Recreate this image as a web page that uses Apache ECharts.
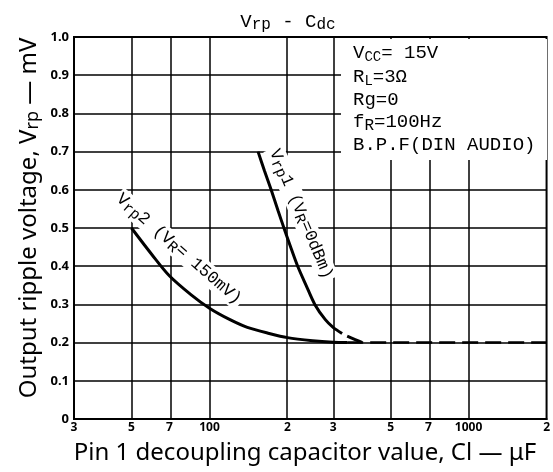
<!DOCTYPE html>
<html><head><meta charset="utf-8">
<script src="https://cdn.jsdelivr.net/npm/echarts@6/dist/echarts.min.js"></script>
<style>html,body{margin:0;padding:0;background:#fff}#c{width:553px;height:472px}</style>
</head><body><div id="c"></div>
<script>
const xTickValues = [30, 50, 70, 100, 200, 300, 500, 700, 1000, 2000];
const xTickLabels = ['3', '5', '7', '100', '2', '3', '5', '7', '1000', '2'];
const yMin = 0, yMax = 1.0, yStep = 0.1;

const vrp1C = [154, 163, 173, 184, 195, 207, 219, 236, 255, 280, 300, 325];
const vrp1V = [0.70, 0.65, 0.60, 0.545, 0.495, 0.445, 0.40, 0.35, 0.30, 0.26, 0.24, 0.224];
const vrp1DashC = [340, 365, 390];
const vrp1DashV = [0.217, 0.208, 0.20];

const vrp2C = [50, 60, 70, 85, 100, 120, 140, 170, 200, 250, 300, 340];
const vrp2V = [0.50, 0.43, 0.375, 0.325, 0.29, 0.26, 0.24, 0.224, 0.213, 0.205, 0.201, 0.20];
const vrp2DashC = [340, 2000];
const vrp2DashV = [0.20, 0.20];

const L = Math.log10;
const pts = (cs, vs) => cs.map((c, i) => [L(c), vs[i]]);
const mono = '"Liberation Mono", "DejaVu Sans Mono", monospace';
const sans = '"Noto Sans", "DejaVu Sans", sans-serif';

const chart = echarts.init(document.getElementById('c'), null, {renderer: 'canvas'});
chart.setOption({
  animation: false,
  backgroundColor: '#fff',
  grid: {left: 74, right: 2, top: 37, bottom: 53, show: true, borderColor: '#000', borderWidth: 2},
  xAxis: {
    type: 'value', min: L(xTickValues[0]), max: L(xTickValues[xTickValues.length - 1]),
    axisLine: {show: true, lineStyle: {color: '#000', width: 2}},
    axisTick: {show: false},
    splitLine: {show: false},
    axisLabel: {
      customValues: xTickValues.map(L),
      showMinLabel: true, showMaxLabel: true, hideOverlap: false,
      margin: 3, color: '#000', fontFamily: sans, fontWeight: 'bold', fontSize: 12,
      formatter: v => {
        let best = 0, d = 1e9;
        xTickValues.forEach((t, i) => { const dd = Math.abs(L(t) - v); if (dd < d) { d = dd; best = i; } });
        return xTickLabels[best];
      }
    }
  },
  yAxis: {
    type: 'value', min: yMin, max: yMax, interval: yStep,
    axisLine: {show: true, lineStyle: {color: '#000', width: 2}},
    axisTick: {show: false},
    splitLine: {show: true, lineStyle: {color: '#000', width: 1.5}},
    axisLabel: {
      margin: 5, color: '#000', fontFamily: sans, fontWeight: 'bold', fontSize: 13,
      formatter: v => (Math.abs(v) < 1e-9 ? '0' : v.toFixed(1))
    }
  },
  series: [
    {
      type: 'line', data: [], z: 1, silent: true,
      markLine: {
        silent: true, symbol: 'none', label: {show: false},
        lineStyle: {color: '#000', width: 1.5, type: 'solid'},
        data: xTickValues.slice(1, -1).map(v => ({xAxis: L(v)}))
      }
    },
    {type: 'line', data: pts(vrp1C, vrp1V), smooth: 0.3, symbol: 'none', z: 5,
     lineStyle: {color: '#000', width: 3}},
    {type: 'line', data: pts(vrp1DashC, vrp1DashV), smooth: true, symbol: 'none', z: 5,
     lineStyle: {color: '#000', width: 3, type: [16, 10]}},
    {type: 'line', data: pts(vrp2C, vrp2V), smooth: 0.3, symbol: 'none', z: 5,
     lineStyle: {color: '#000', width: 3}},
    {type: 'line', data: pts(vrp2DashC, vrp2DashV), symbol: 'none', z: 5,
     lineStyle: {color: '#000', width: 2.5, type: [16, 7]}}
  ],
  graphic: {elements: [
    {type: 'rect', shape: {x: 341, y: 39, width: 206, height: 121}, style: {fill: '#fff'}, z: 50},
    {type: 'text', x: 353, y: 53, z: 60, style: {text: 'V{s|CC}= 15V', font: '19px ' + mono, fill: '#000', verticalAlign: 'middle',
      rich: {s: {fontSize: 14, fontFamily: mono, padding: [8, 0, 0, 0]}}}},
    {type: 'text', x: 353, y: 77, z: 60, style: {text: 'R{s|L}=3Ω', font: '19px ' + mono, fill: '#000', verticalAlign: 'middle',
      rich: {s: {fontSize: 14, fontFamily: mono, padding: [8, 0, 0, 0]}}}},
    {type: 'text', x: 353, y: 100, z: 60, style: {text: 'Rg=0', font: '19px ' + mono, fill: '#000', verticalAlign: 'middle'}},
    {type: 'text', x: 353, y: 122, z: 60, style: {text: 'f{s|R}=100Hz', font: '19px ' + mono, fill: '#000', verticalAlign: 'middle',
      rich: {s: {fontSize: 16, fontFamily: mono, padding: [8, 0, 0, 0]}}}},
    {type: 'text', x: 353, y: 145, z: 60, style: {text: 'B.P.F(DIN AUDIO)', font: '19px ' + mono, fill: '#000', verticalAlign: 'middle'}},
    {type: 'text', x: 288, y: 22, z: 60, style: {text: 'V{s|rp} - C{s|dc}', font: '19px ' + mono, fill: '#000', align: 'center', verticalAlign: 'middle',
      rich: {s: {fontSize: 16, fontFamily: mono, padding: [6, 0, 0, 0]}}}},
    {type: 'text', x: 301, y: 214, rotation: -67 * Math.PI / 180, z: 60,
      style: {text: 'V{s|rp}1 (V{s|R}=0dBm)', font: '17px ' + mono, fill: '#000', align: 'center', verticalAlign: 'middle',
        backgroundColor: '#fff', padding: [0, 2],
        rich: {s: {fontSize: 15, fontFamily: mono, padding: [6, 0, 0, 0], backgroundColor: '#fff'}}}},
    {type: 'text', x: 179, y: 249, rotation: -41 * Math.PI / 180, z: 60,
      style: {text: 'V{s|rp}2 (V{s|R}= 150mV)', font: '17px ' + mono, fill: '#000', align: 'center', verticalAlign: 'middle',
        backgroundColor: '#fff', padding: [0, 2],
        rich: {s: {fontSize: 15, fontFamily: mono, padding: [6, 0, 0, 0], backgroundColor: '#fff'}}}},
    {type: 'text', x: 305, y: 453, z: 60, style: {text: 'Pin 1 decoupling capacitor value, Cl — μF', font: '24px ' + sans, fill: '#000', align: 'center', verticalAlign: 'middle'}},
    {type: 'text', x: 29, y: 218, rotation: Math.PI / 2, z: 60,
      style: {text: 'Output ripple voltage, V{s|rp} — mV', font: '24px ' + sans, fill: '#000', align: 'center', verticalAlign: 'middle',
        rich: {s: {fontSize: 18, fontFamily: sans, padding: [8, 0, 0, 0]}}}}
  ]}
});
</script></body></html>
